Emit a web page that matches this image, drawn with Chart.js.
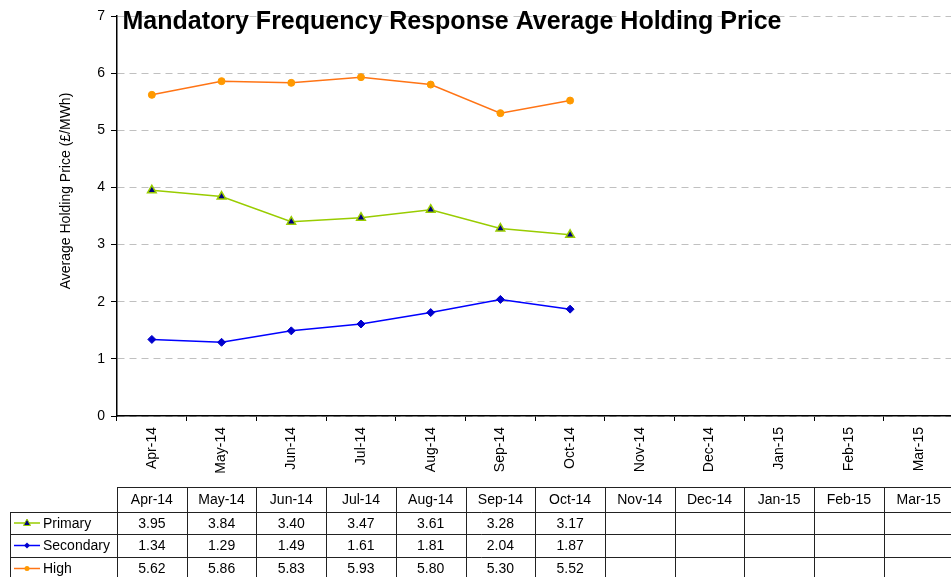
<!DOCTYPE html>
<html>
<head>
<meta charset="utf-8">
<script src="https://cdn.jsdelivr.net/npm/chart.js@4.4.0/dist/chart.umd.min.js"></script>
<style>
  html, body { margin: 0; padding: 0; background: #fff; overflow: hidden; }
  #wrap { width: 960px; height: 577px; }
</style>
</head>
<body>
<div id="wrap"><canvas id="myChart" width="960" height="577"></canvas></div>
<script>
var months = ['Apr-14', 'May-14', 'Jun-14', 'Jul-14', 'Aug-14', 'Sep-14', 'Oct-14', 'Nov-14', 'Dec-14', 'Jan-15', 'Feb-15', 'Mar-15'];
var primary = [3.95, 3.84, 3.40, 3.47, 3.61, 3.28, 3.17, null, null, null, null, null];
var secondary = [1.34, 1.29, 1.49, 1.61, 1.81, 2.04, 1.87, null, null, null, null, null];
var high = [5.62, 5.86, 5.83, 5.93, 5.80, 5.30, 5.52, null, null, null, null, null];
var yTicks = [0, 1, 2, 3, 4, 5, 6, 7];

var chartTitle = 'Mandatory Frequency Response Average Holding Price';
var yTitle = 'Average Holding Price (\u00a3/MWh)';
var fontFamily = '"Liberation Sans", Arial, sans-serif';

var series = [
    { label: 'Primary', data: primary, line: '#99cc00', fill: '#000080', style: 'triangle', r: 5 },
    { label: 'Secondary', data: secondary, line: '#0000ff', fill: '#0000cc', style: 'rectRot', r: 4 },
    { label: 'High', data: high, line: '#ff7415', fill: '#ff9900', style: 'circle', r: 3.5 }
];

function drawMarker(ctx, s, x, y) {
    ctx.fillStyle = s.fill;
    ctx.strokeStyle = s.line;
    ctx.lineWidth = 1;
    ctx.beginPath();
    if (s.style === 'triangle') {
        ctx.moveTo(x, y - 4);
        ctx.lineTo(x + 3.5, y + 2.5);
        ctx.lineTo(x - 3.5, y + 2.5);
        ctx.closePath();
        ctx.fill();
        ctx.stroke();
    } else if (s.style === 'rectRot') {
        ctx.moveTo(x, y - 3);
        ctx.lineTo(x + 3, y);
        ctx.lineTo(x, y + 3);
        ctx.lineTo(x - 3, y);
        ctx.closePath();
        ctx.fill();
    } else {
        ctx.arc(x, y, 2.5, 0, Math.PI * 2);
        ctx.fill();
    }
}

var extras = {
    id: 'extras',
    afterDraw: function (chart) {
        var ctx = chart.ctx;
        var xs = chart.scales.x;
        var w = (xs.right - xs.left) / months.length;
        var rowY = [487, 512, 534, 557, 580];
        var legendLeft = 10;

        ctx.save();
        // title
        ctx.fillStyle = '#000';
        ctx.font = 'bold 25px ' + fontFamily;
        ctx.textAlign = 'center';
        ctx.textBaseline = 'middle';
        ctx.fillText(chartTitle, 452, 22);

        // y axis title
        ctx.save();
        ctx.translate(66, 191);
        ctx.rotate(-Math.PI / 2);
        ctx.font = '14px ' + fontFamily;
        ctx.fillText(yTitle, 0, 0);
        ctx.restore();

        // data table grid
        ctx.strokeStyle = '#222';
        ctx.lineWidth = 1;
        ctx.beginPath();
        ctx.moveTo(xs.left, rowY[0] + 0.5);
        ctx.lineTo(xs.right, rowY[0] + 0.5);
        for (var r = 1; r < rowY.length; r++) {
            ctx.moveTo(legendLeft, rowY[r] + 0.5);
            ctx.lineTo(xs.right, rowY[r] + 0.5);
        }
        ctx.moveTo(legendLeft + 0.5, rowY[1]);
        ctx.lineTo(legendLeft + 0.5, rowY[4]);
        for (var i = 0; i <= months.length; i++) {
            var bx = Math.round(xs.left + i * w) + 0.5;
            ctx.moveTo(bx, rowY[0]);
            ctx.lineTo(bx, rowY[4]);
        }
        ctx.stroke();

        // table text
        ctx.font = '14px ' + fontFamily;
        ctx.fillStyle = '#000';
        ctx.textAlign = 'center';
        for (var j = 0; j < months.length; j++) {
            var cx = xs.getPixelForValue(j);
            ctx.fillText(months[j], cx, (rowY[0] + rowY[1]) / 2 + 1);
            for (var k = 0; k < series.length; k++) {
                var v = series[k].data[j];
                if (v !== null) {
                    ctx.fillText(v.toFixed(2), cx, (rowY[k + 1] + rowY[k + 2]) / 2 + 1);
                }
            }
        }

        // legend keys in table
        for (var m = 0; m < series.length; m++) {
            var s = series[m];
            var cy = (rowY[m + 1] + rowY[m + 2]) / 2;
            ctx.strokeStyle = s.line;
            ctx.lineWidth = 1.5;
            ctx.beginPath();
            ctx.moveTo(14, cy);
            ctx.lineTo(40, cy);
            ctx.stroke();
            drawMarker(ctx, s, 27, cy);
            ctx.fillStyle = '#000';
            ctx.textAlign = 'left';
            ctx.fillText(s.label, 43, cy + 1);
        }
        ctx.restore();
    }
};

Chart.defaults.font.family = fontFamily;
Chart.defaults.font.size = 14;
Chart.defaults.color = '#000';

var ctx = document.getElementById('myChart').getContext('2d');
var myChart = new Chart(ctx, {
    type: 'line',
    data: {
        labels: months,
        datasets: series.map(function (s) {
            return {
                label: s.label,
                data: s.data,
                borderColor: s.line,
                borderWidth: 1.5,
                pointStyle: s.style,
                pointRadius: s.r,
                pointHoverRadius: s.r,
                pointBackgroundColor: s.fill,
                pointBorderColor: s.style === 'triangle' ? s.line : s.fill,
                pointBorderWidth: s.style === 'triangle' ? 1.5 : 1,
                tension: 0,
                spanGaps: false
            };
        })
    },
    options: {
        responsive: false,
        animation: false,
        events: [],
        layout: { padding: { left: 0, top: 16, right: 3, bottom: 0 } },
        plugins: {
            legend: { display: false },
            title: { display: false },
            tooltip: { enabled: false }
        },
        scales: {
            x: {
                offset: true,
                grid: { offset: true, drawOnChartArea: false, tickLength: 5, tickColor: '#000', tickWidth: 1 },
                border: { color: '#000', width: 1.5 },
                ticks: { minRotation: 90, maxRotation: 90, padding: 6, autoSkip: false, font: { size: 14 } },
                afterFit: function (scale) { scale.height = 161; }
            },
            y: {
                min: 0,
                max: 7,
                afterBuildTicks: function (scale) {
                    scale.ticks = yTicks.map(function (v) { return { value: v }; });
                },
                grid: { color: '#c0c0c0', tickColor: '#000', tickLength: 6, lineWidth: 1 },
                border: { color: '#000', width: 1.5, dash: [7, 5] },
                ticks: { padding: 6, font: { size: 14 } },
                afterFit: function (scale) { scale.width = 117; }
            }
        }
    },
    plugins: [extras]
});
</script>
</body>
</html>
